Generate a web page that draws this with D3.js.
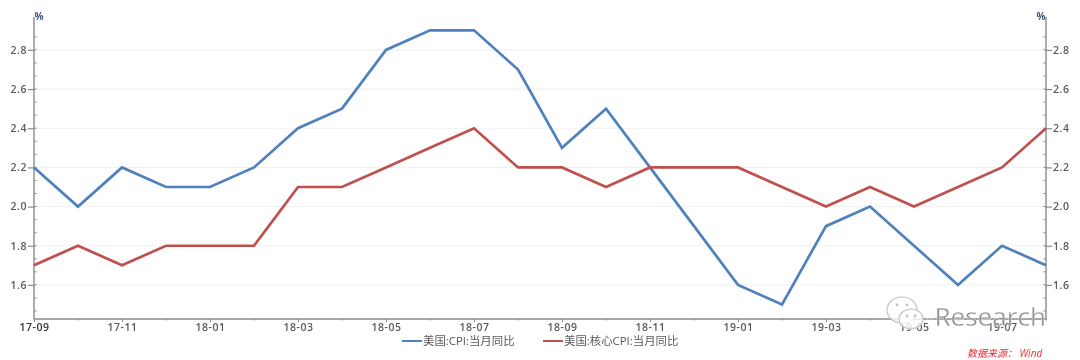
<!DOCTYPE html>
<html><head><meta charset="utf-8">
<script src="https://cdn.jsdelivr.net/npm/d3@7"></script>
<style>
html,body{margin:0;padding:0;background:#fff;}
svg{display:block;}
text{font-family:"Open Sans","Noto Sans CJK SC",sans-serif;}
</style></head><body><svg id="c" width="1080" height="360"></svg>
<script>
const categories=["17-09","17-10","17-11","17-12","18-01","18-02","18-03","18-04","18-05","18-06","18-07","18-08","18-09","18-10","18-11","18-12","19-01","19-02","19-03","19-04","19-05","19-06","19-07","19-08"];
const cpi=[2.2,2.0,2.2,2.1,2.1,2.2,2.4,2.5,2.8,2.9,2.9,2.7,2.3,2.5,2.2,1.9,1.6,1.5,1.9,2.0,1.8,1.6,1.8,1.7];
const coreCpi=[1.7,1.8,1.7,1.8,1.8,1.8,2.1,2.1,2.2,2.3,2.4,2.2,2.2,2.1,2.2,2.2,2.2,2.1,2.0,2.1,2.0,2.1,2.2,2.4];
const yTicks=[1.6,1.8,2.0,2.2,2.4,2.6,2.8];
const seriesNames=["美国:CPI:当月同比","美国:核心CPI:当月同比"];
const seriesColors=["#4f81bd","#c0504d"];
const L=34,R=1046,T=17,B=319,axisC="#8a8a8a",txt="#5a5a5a";
const svg=d3.select("#c");
const x=d3.scalePoint().domain(categories).range([L,R]);
const y=d3.scaleLinear().domain([1.426,2.968]).range([B,T]);
const soft=svg.append("g").style("filter","blur(0.5px)");
// grid
soft.append("g").selectAll("line").data(yTicks).join("line")
 .attr("x1",L).attr("x2",R).attr("y1",d=>y(d)).attr("y2",d=>y(d)).attr("stroke","#f1f1f1").attr("stroke-width",1.2);
// y axes
const minor=d3.range(-2,20).map(i=>+(1.6+i*0.2/3).toFixed(4)).filter(v=>v>=1.43&&v<=2.96);
function yAxis(gen,xp,sign){
 const g=soft.append("g").attr("transform",`translate(${xp},0)`).call(gen(y).tickValues(yTicks).tickFormat(d3.format(".1f")).tickSize(6).tickPadding(1));
 g.select(".domain").remove();
 g.selectAll(".tick line").attr("stroke",axisC).attr("stroke-width",1.2);
 g.selectAll("text").attr("fill",txt).attr("font-size",10.5).attr("font-weight",600).attr("letter-spacing",.5);
 g.append("g").selectAll("line").data(minor).join("line").attr("x1",0).attr("x2",sign*2.5).attr("y1",d=>y(d)).attr("y2",d=>y(d)).attr("stroke",axisC);
 g.append("line").attr("y1",T).attr("y2",B).attr("stroke",axisC).attr("stroke-width",1.4);
}
yAxis(d3.axisLeft,L,1);
yAxis(d3.axisRight,R,-1);
soft.append("text").attr("x",39).attr("y",20).attr("text-anchor","middle").attr("font-size",10).attr("font-weight",700).attr("fill","#44557a").text("%");
soft.append("text").attr("x",1041).attr("y",20).attr("text-anchor","middle").attr("font-size",10).attr("font-weight",700).attr("fill","#44557a").text("%");
// x axis
const gx=soft.append("g").attr("transform",`translate(0,${B})`).call(d3.axisBottom(x).tickValues(categories).tickSize(3).tickFormat((d,i)=>i%2==0?d:""));
gx.select(".domain").attr("stroke",axisC).attr("stroke-width",1.3).attr("d",`M${L},0H${R}`);
gx.selectAll(".tick line").attr("stroke",axisC).attr("y2",(d,i)=>i%2==0?3:1.5);
gx.selectAll("text").attr("y",5).attr("dy","0.71em").attr("fill",txt).attr("font-size",10.5).attr("font-weight",600).attr("letter-spacing",.5);
gx.select(".tick text").attr("fill","#333");
// lines
const line=d3.line().x((d,i)=>x(categories[i])).y(d=>y(d));
[cpi,coreCpi].forEach((s,i)=>soft.append("path").datum(s).attr("d",line).attr("fill","none").attr("stroke",seriesColors[i]).attr("stroke-width",2.7).attr("stroke-linejoin","miter"));
// legend
const lg=[[402,422],[543,563]];
lg.forEach((p,i)=>{
 soft.append("line").attr("x1",p[0]).attr("x2",p[1]).attr("y1",341).attr("y2",341).attr("stroke",seriesColors[i]).attr("stroke-width",2);
 soft.append("text").attr("x",p[1]+1).attr("y",345).attr("font-size",11.4).attr("fill",txt).text(seriesNames[i]);
});
// source
soft.append("text").attr("x",967).attr("y",357).attr("font-size",10).attr("font-style","italic").attr("fill","#f0282d").text("数据来源： Wind");
// watermark
const wm=svg.append("g").attr("fill","rgba(255,255,255,.8)").attr("stroke","#c4c4c4").attr("stroke-width",1.2);
wm.append("ellipse").attr("cx",902).attr("cy",310).attr("rx",15).attr("ry",13);
wm.append("ellipse").attr("cx",911).attr("cy",319).attr("rx",12).attr("ry",10);
const eyes=svg.append("g").attr("fill","#c4c4c4");
[[897,305],[907,305],[907,316],[915,316]].forEach(p=>eyes.append("circle").attr("cx",p[0]).attr("cy",p[1]).attr("r",1.4));
svg.append("text").attr("x",926).attr("y",326).attr("font-size",25).attr("fill","#8f8f8f").attr("stroke","#fff").attr("stroke-width",.3).attr("font-family","Liberation Sans").attr("textLength",120).attr("lengthAdjust","spacingAndGlyphs").text("-Research");
</script></body></html>
